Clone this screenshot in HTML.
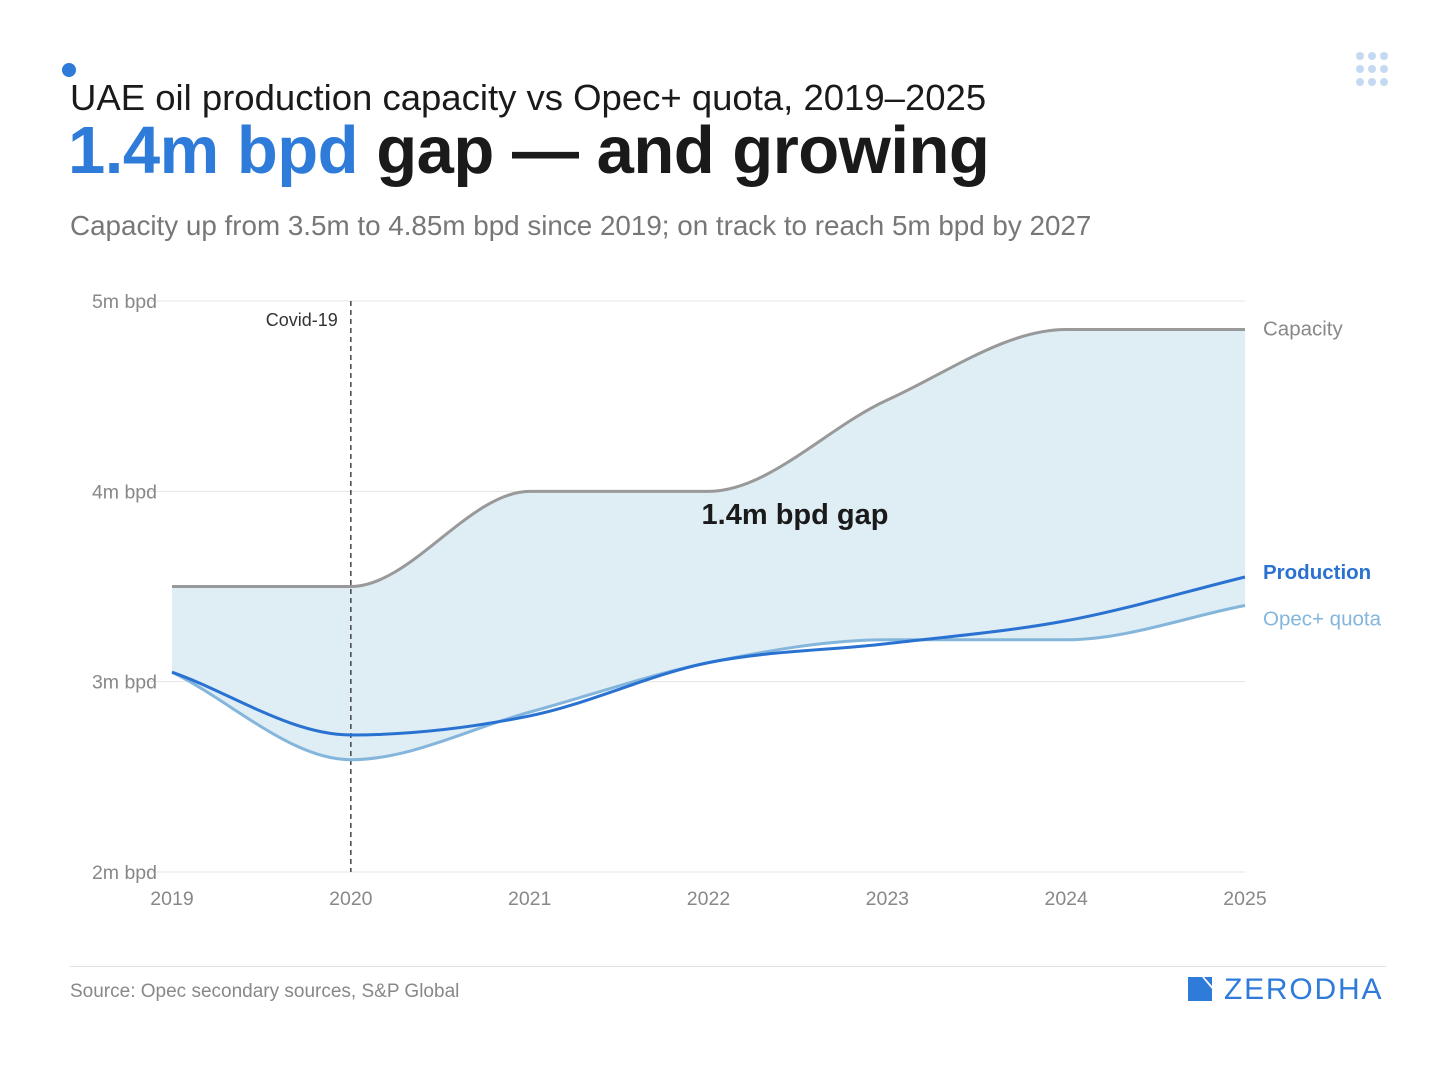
<!DOCTYPE html>
<html><head><meta charset="utf-8"><style>
body{margin:0;background:#fff;font-family:"Liberation Sans",sans-serif;}
#wrap{position:relative;width:1456px;height:1077px;overflow:hidden;background:#fff}
.t{position:absolute;white-space:nowrap}
</style></head><body>
<div id="wrap">
<div style="position:absolute;left:62px;top:63px;width:14px;height:14px;border-radius:50%;background:#2f7bd9"></div>
<div class="t" style="left:70px;top:77px;font-size:36.5px;color:#1a1a1a">UAE oil production capacity vs Opec+ quota, 2019–2025</div>
<div class="t" style="left:68px;top:112px;font-size:67px;font-weight:bold;color:#1a1a1a;letter-spacing:-0.5px"><span style="color:#2f7bd9">1.4m bpd</span> gap — and growing</div>
<div class="t" style="left:70px;top:210px;font-size:27.8px;color:#777">Capacity up from 3.5m to 4.85m bpd since 2019; on track to reach 5m bpd by 2027</div>
<svg style="position:absolute;left:1352px;top:50px" width="40" height="40">
<g fill="#c4daf2"><circle cx="8" cy="6" r="4"/><circle cx="20" cy="6" r="4"/><circle cx="32" cy="6" r="4"/><circle cx="8" cy="19" r="4"/><circle cx="20" cy="19" r="4"/><circle cx="32" cy="19" r="4"/><circle cx="8" cy="32" r="4"/><circle cx="20" cy="32" r="4"/><circle cx="32" cy="32" r="4"/></g></svg>
<svg id="chart" style="position:absolute;left:0;top:0" width="1456" height="1077"></svg>
<div style="position:absolute;left:70px;top:966px;width:1316px;height:1px;background:#e2e2e2"></div>
<div class="t" style="left:70px;top:981px;font-size:19px;color:#888">Source: Opec secondary sources, S&amp;P Global</div>
<div style="position:absolute;left:1188px;top:976px;height:26px">
<svg width="26" height="26" style="position:absolute;left:0;top:1px"><path d="M0 0H14L24 12V24H0Z" fill="#2f7bd9"/><path d="M16 0H24V9Z" fill="#2f7bd9"/></svg>
<div class="t" style="left:36px;top:-3px;font-size:30px;color:#2f7bd9;letter-spacing:1.8px">ZERODHA</div></div>
</div>
<script>
const years=[2019,2020,2021,2022,2023,2024,2025];
const capacity=[3.5,3.5,4.0,4.0,4.48,4.85,4.85];
const production=[3.05,2.72,2.82,3.1,3.2,3.32,3.55];
const quota=[3.05,2.59,2.84,3.1,3.22,3.22,3.4];
const yTicks=[2,3,4,5];
const yTickLabels=["2m bpd","3m bpd","4m bpd","5m bpd"];
const NS="http://www.w3.org/2000/svg";
const svg=document.getElementById('chart');
const X=v=>172+(v-2019)*(1245-172)/6;
const Y=v=>872-(v-2)*(872-301)/3;
function el(t,a,p){const e=document.createElementNS(NS,t);for(const k in a)e.setAttribute(k,a[k]);(p||svg).appendChild(e);return e;}
function mono(xs,ys){const n=xs.length,d=[],m=[];for(let i=0;i<n-1;i++)d.push((ys[i+1]-ys[i])/(xs[i+1]-xs[i]));
for(let i=0;i<n;i++){if(i==0)m.push(d[0]);else if(i==n-1)m.push(d[n-2]);else m.push(d[i-1]*d[i]<=0?0:(d[i-1]+d[i])/2);}
for(let i=0;i<n-1;i++){if(d[i]==0){m[i]=0;m[i+1]=0;}else{const a=m[i]/d[i],b=m[i+1]/d[i],s=a*a+b*b;if(s>9){const t=3/Math.sqrt(s);m[i]=t*a*d[i];m[i+1]=t*b*d[i];}}}
let p="";for(let i=0;i<n-1;i++){const h=(xs[i+1]-xs[i])/3;p+=` C${xs[i]+h},${ys[i]+m[i]*h} ${xs[i+1]-h},${ys[i+1]-m[i+1]*h} ${xs[i+1]},${ys[i+1]}`;}return p;}
const xs=years.map(X);
yTicks.forEach((v,i)=>{
 const g=el('line',{x1:145,x2:1245,y1:Y(v),y2:Y(v),stroke:'#e4e4e4','stroke-width':1});
 
 const t=el('text',{x:157,y:Y(v)+7,'text-anchor':'end','font-size':19.5,fill:'#888'});t.textContent=yTickLabels[i];
 
});
years.forEach(v=>{const t=el('text',{x:X(v),y:905,'text-anchor':'middle','font-size':19.5,fill:'#888'});t.textContent=v;
 });
const cy=capacity.map(Y),py=production.map(Y),qy=quota.map(Y);
const rq=mono(xs.slice().reverse(),qy.slice().reverse());
const area=el('path',{d:`M${xs[0]},${cy[0]}`+mono(xs,cy)+` L${xs[6]},${qy[6]}`+rq+'Z',fill:'#dfedf5'});

const cl=el('line',{x1:X(2020),x2:X(2020),y1:301,y2:872,stroke:'#444','stroke-width':1.5,'stroke-dasharray':'5,4'});

const ct=el('text',{x:X(2020)-13,y:326,'text-anchor':'end','font-size':18,fill:'#333'});ct.textContent='Covid-19';

const lc=el('path',{d:`M${xs[0]},${cy[0]}`+mono(xs,cy),fill:'none',stroke:'#999','stroke-width':3});

const lq=el('path',{d:`M${xs[0]},${qy[0]}`+mono(xs,qy),fill:'none',stroke:'#84b6dc','stroke-width':3});

const lp=el('path',{d:`M${xs[0]},${py[0]}`+mono(xs,py),fill:'none',stroke:'#2a72d2','stroke-width':3});

const labs=[['Capacity',cy[6],'#888','normal','capacity-label'],['Production',py[6]-4,'#2a72d2','bold','production-label'],['Opec+ quota',qy[6]+14,'#84b6dc','normal','quota-label']];
labs.forEach(l=>{const t=el('text',{x:1263,y:l[1]+6,'font-size':20.5,fill:l[2],'font-weight':l[3]});t.textContent=l[0];
 });
const gt=el('text',{x:795,y:524,'text-anchor':'middle','font-size':29,'font-weight':'bold',fill:'#1a1a1a'});gt.textContent='1.4m bpd gap';

</script>
</body></html>
